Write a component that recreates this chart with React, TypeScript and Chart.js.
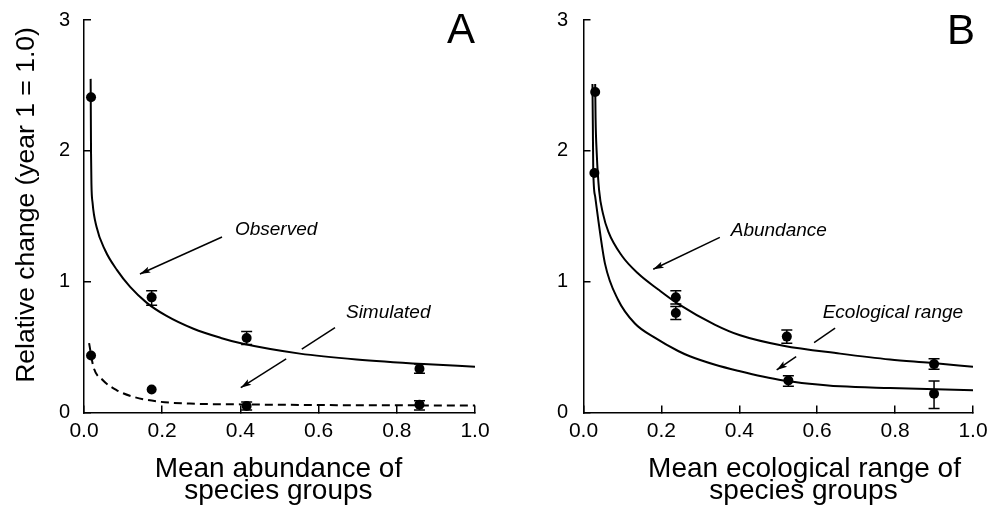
import React, { useEffect, useRef } from "react";
import { Chart, registerables } from "chart.js";

Chart.register(...registerables);

const FONT = '"Liberation Sans", Arial, Helvetica, sans-serif';

// Axis tick values
const xTickValues = [0, 0.2, 0.4, 0.6, 0.8, 1.0];
const yTickValues = [0, 1, 2, 3];

// ---------- Panel A: Mean abundance ----------
const obsX = [0.018, 0.173, 0.416, 0.858];
const obsY = [2.41, 0.88, 0.57, 0.335];
const obsLow = [2.41, 0.82, 0.52, 0.3];
const obsHigh = [2.41, 0.93, 0.62, 0.37];

const simX = [0.018, 0.173, 0.416, 0.858];
const simY = [0.436, 0.176, 0.05, 0.06];
const simLow = [0.436, 0.176, 0.02, 0.02];
const simHigh = [0.436, 0.176, 0.08, 0.09];

const obsCurveX = [0.017, 0.0175, 0.018, 0.019, 0.022, 0.032, 0.054, 0.084, 0.118, 0.16, 0.21, 0.28, 0.35, 0.407, 0.552, 0.697, 0.868, 1.0];
const obsCurveY = [2.55, 2.25, 1.98, 1.75, 1.6, 1.42, 1.24, 1.09, 0.96, 0.84, 0.74, 0.64, 0.57, 0.525, 0.45, 0.405, 0.37, 0.35];

const simCurveX = [0.013, 0.024, 0.049, 0.084, 0.126, 0.186, 0.271, 0.4, 0.6, 0.8, 1.0];
const simCurveY = [0.53, 0.35, 0.245, 0.17, 0.12, 0.085, 0.068, 0.062, 0.057, 0.055, 0.053];

// ---------- Panel B: Mean ecological range ----------
const abunX = [0.03, 0.237, 0.522, 0.9];
const abunY = [2.45, 0.88, 0.58, 0.37];
const abunLow = [2.45, 0.83, 0.53, 0.33];
const abunHigh = [2.45, 0.93, 0.63, 0.41];

const ecoX = [0.028, 0.237, 0.526, 0.9];
const ecoY = [1.83, 0.76, 0.245, 0.143];
const ecoLow = [1.83, 0.71, 0.2, 0.03];
const ecoHigh = [1.83, 0.81, 0.28, 0.24];

const abunCurveX = [0.03, 0.031, 0.034, 0.04, 0.05, 0.064, 0.098, 0.141, 0.192, 0.243, 0.338, 0.402, 0.513, 0.659, 0.787, 0.89, 1.0];
const abunCurveY = [2.51, 2.25, 1.98, 1.7, 1.52, 1.38, 1.2, 1.06, 0.94, 0.83, 0.67, 0.59, 0.51, 0.45, 0.405, 0.38, 0.35];

const ecoCurveX = [0.023, 0.024, 0.025, 0.03, 0.038, 0.055, 0.089, 0.132, 0.184, 0.243, 0.273, 0.338, 0.402, 0.46, 0.513, 0.58, 0.659, 0.787, 1.0];
const ecoCurveY = [2.51, 2.2, 1.86, 1.65, 1.47, 1.14, 0.86, 0.68, 0.57, 0.47, 0.43, 0.365, 0.315, 0.275, 0.245, 0.22, 0.2, 0.187, 0.17];

// ---------- Text ----------
const yTitle = "Relative change (year 1 = 1.0)";
const xTitleA = ["Mean abundance of", "species groups"];
const xTitleB = ["Mean ecological range of", "species groups"];

type Curve = { x: number[]; y: number[]; dash?: number[] };
type Pts = { x: number[]; y: number[]; low: number[]; high: number[] };
type DataText = { text: string; x: number; y: number; font: string; align: CanvasTextAlign };
type PixText = { text: string; x: number; y: number; font: string; align: CanvasTextAlign; rotate?: boolean };
type Arrow = { x1: number; y1: number; x2: number; y2: number; head: boolean };

type PanelCfg = {
  canvasLeft: number;
  canvasWidth: number;
  yAxisWidth: number;
  yPad: number;
  padRight: number;
  curves: Curve[];
  points: Pts[];
  dataTexts: DataText[];
  pixTexts: PixText[];
  arrows: Arrow[];
};

const ITALIC = `italic 19px ${FONT}`;
const TITLE = `28px ${FONT}`;
const LETTER = `42px ${FONT}`;

const panelA: PanelCfg = {
  canvasLeft: 0,
  canvasWidth: 495,
  yAxisWidth: 84,
  yPad: 21,
  padRight: 20,
  curves: [
    { x: obsCurveX, y: obsCurveY },
    { x: simCurveX, y: simCurveY, dash: [8, 5] },
  ],
  points: [
    { x: obsX, y: obsY, low: obsLow, high: obsHigh },
    { x: simX, y: simY, low: simLow, high: simHigh },
  ],
  dataTexts: [
    { text: "Observed", x: 0.386, y: 1.357, font: ITALIC, align: "left" },
    { text: "Simulated", x: 0.67, y: 0.72, font: ITALIC, align: "left" },
    { text: "A", x: 1.0, y: 2.822, font: LETTER, align: "right" },
  ],
  pixTexts: [
    { text: yTitle, x: 33.5, y: 205, font: `26.5px ${FONT}`, align: "center", rotate: true },
    { text: xTitleA[0], x: 278.4, y: 476.7, font: TITLE, align: "center" },
    { text: xTitleA[1], x: 278.4, y: 499.3, font: TITLE, align: "center" },
  ],
  arrows: [
    { x1: 0.353, y1: 1.341, x2: 0.143, y2: 1.059, head: true },
    { x1: 0.642, y1: 0.648, x2: 0.557, y2: 0.485, head: false },
    { x1: 0.517, y1: 0.409, x2: 0.401, y2: 0.19, head: true },
  ],
};

const panelB: PanelCfg = {
  canvasLeft: 495,
  canvasWidth: 494,
  yAxisWidth: 88.5,
  yPad: 22.5,
  padRight: 16,
  curves: [
    { x: abunCurveX, y: abunCurveY },
    { x: ecoCurveX, y: ecoCurveY },
  ],
  points: [
    { x: abunX, y: abunY, low: abunLow, high: abunHigh },
    { x: ecoX, y: ecoY, low: ecoLow, high: ecoHigh },
  ],
  dataTexts: [
    { text: "Abundance", x: 0.378, y: 1.351, font: ITALIC, align: "left" },
    { text: "Ecological range", x: 0.614, y: 0.72, font: ITALIC, align: "left" },
    { text: "B", x: 1.005, y: 2.817, font: LETTER, align: "right" },
  ],
  pixTexts: [
    { text: xTitleB[0], x: 309.5, y: 476.7, font: TITLE, align: "center" },
    { text: xTitleB[1], x: 308.5, y: 499.3, font: TITLE, align: "center" },
  ],
  arrows: [
    { x1: 0.35, y1: 1.339, x2: 0.179, y2: 1.095, head: true },
    { x1: 0.646, y1: 0.644, x2: 0.592, y2: 0.534, head: false },
    { x1: 0.546, y1: 0.427, x2: 0.496, y2: 0.325, head: true },
  ],
};

function makePlugin(cfg: PanelCfg) {
  return {
    id: "panelDecor",
    afterDatasetsDraw(chart: any) {
      const ctx: CanvasRenderingContext2D = chart.ctx;
      const xs = chart.scales.x;
      const ys = chart.scales.y;
      ctx.save();
      ctx.strokeStyle = "#000";
      ctx.fillStyle = "#000";
      ctx.lineWidth = 1.5;
      // error bars
      for (const p of cfg.points) {
        for (let i = 0; i < p.x.length; i++) {
          if (p.high[i] - p.low[i] <= 0) continue;
          const px = xs.getPixelForValue(p.x[i]);
          const pl = ys.getPixelForValue(p.low[i]);
          const ph = ys.getPixelForValue(p.high[i]);
          ctx.beginPath();
          ctx.moveTo(px, pl);
          ctx.lineTo(px, ph);
          ctx.moveTo(px - 5.5, pl);
          ctx.lineTo(px + 5.5, pl);
          ctx.moveTo(px - 5.5, ph);
          ctx.lineTo(px + 5.5, ph);
          ctx.stroke();
        }
      }
      // arrows
      for (const a of cfg.arrows) {
        const x1 = xs.getPixelForValue(a.x1);
        const y1 = ys.getPixelForValue(a.y1);
        const x2 = xs.getPixelForValue(a.x2);
        const y2 = ys.getPixelForValue(a.y2);
        ctx.beginPath();
        ctx.moveTo(x1, y1);
        ctx.lineTo(x2, y2);
        ctx.stroke();
        if (a.head) {
          const ang = Math.atan2(y2 - y1, x2 - x1);
          const L = 11;
          const w = 0.3;
          ctx.beginPath();
          ctx.moveTo(x2, y2);
          ctx.lineTo(x2 - L * Math.cos(ang - w), y2 - L * Math.sin(ang - w));
          ctx.lineTo(x2 - L * 0.75 * Math.cos(ang), y2 - L * 0.75 * Math.sin(ang));
          ctx.lineTo(x2 - L * Math.cos(ang + w), y2 - L * Math.sin(ang + w));
          ctx.closePath();
          ctx.fill();
        }
      }
      // data-anchored text
      ctx.textBaseline = "alphabetic";
      for (const t of cfg.dataTexts) {
        ctx.font = t.font;
        ctx.textAlign = t.align;
        ctx.fillText(t.text, xs.getPixelForValue(t.x), ys.getPixelForValue(t.y));
      }
      // titles
      for (const t of cfg.pixTexts) {
        ctx.font = t.font;
        ctx.textAlign = t.align;
        if (t.rotate) {
          ctx.save();
          ctx.translate(t.x, t.y);
          ctx.rotate(-Math.PI / 2);
          ctx.fillText(t.text, 0, 0);
          ctx.restore();
        } else {
          ctx.fillText(t.text, t.x, t.y);
        }
      }
      ctx.restore();
    },
  };
}

function buildConfig(cfg: PanelCfg): any {
  const datasets: any[] = [];
  cfg.points.forEach((p) => {
    datasets.push({
      type: "scatter",
      data: p.x.map((v, i) => ({ x: v, y: p.y[i] })),
      pointRadius: 5,
      pointBackgroundColor: "#000",
      pointBorderColor: "#000",
      pointBorderWidth: 0,
      showLine: false,
      order: 0,
    });
  });
  cfg.curves.forEach((c) => {
    datasets.push({
      type: "line",
      data: c.x.map((v, i) => ({ x: v, y: c.y[i] })),
      borderColor: "#000",
      borderWidth: 2,
      borderDash: c.dash || [],
      pointRadius: 0,
      fill: false,
      cubicInterpolationMode: "monotone",
      order: 1,
    });
  });
  const grid = {
    display: true,
    drawOnChartArea: false,
    drawTicks: true,
    tickLength: -7,
    color: "#000",
    lineWidth: 1.5,
  };
  const border = { display: true, color: "#000", width: 1.5 };
  return {
    type: "scatter",
    data: { datasets },
    options: {
      responsive: false,
      animation: false,
      devicePixelRatio: 1,
      layout: { padding: { top: 20, right: cfg.padRight, left: 0, bottom: 0 } },
      plugins: { legend: { display: false }, tooltip: { enabled: false } },
      scales: {
        x: {
          type: "linear",
          min: 0,
          max: 1,
          afterBuildTicks: (s: any) => {
            s.ticks = xTickValues.map((v) => ({ value: v }));
          },
          afterFit: (s: any) => {
            s.height = 98.5;
            s.paddingLeft = 0;
            s.paddingRight = 0;
          },
          ticks: {
            callback: (v: any) => Number(v).toFixed(1),
            font: { size: 21, family: FONT },
            color: "#000",
            padding: 13,
            maxRotation: 0,
            autoSkip: false,
          },
          grid,
          border,
        },
        y: {
          type: "linear",
          min: 0,
          max: 3,
          afterBuildTicks: (s: any) => {
            s.ticks = yTickValues.map((v) => ({ value: v }));
          },
          afterFit: (s: any) => {
            s.width = cfg.yAxisWidth;
            s.paddingTop = 0;
            s.paddingBottom = 0;
          },
          ticks: {
            callback: (v: any) => String(v),
            font: { size: 20, family: FONT },
            color: "#000",
            padding: cfg.yPad,
            autoSkip: false,
          },
          grid,
          border,
        },
      },
    },
    plugins: [makePlugin(cfg)],
  };
}

function Panel({ cfg }: { cfg: PanelCfg }) {
  const ref = useRef<HTMLCanvasElement>(null);
  useEffect(() => {
    if (!ref.current) return;
    const chart = new Chart(ref.current, buildConfig(cfg));
    return () => chart.destroy();
  }, [cfg]);
  return (
    <canvas
      ref={ref}
      width={cfg.canvasWidth}
      height={511}
      style={{
        position: "absolute",
        left: cfg.canvasLeft,
        top: 0,
        width: cfg.canvasWidth,
        height: 511,
      }}
    />
  );
}

export default function App() {
  Chart.defaults.font.family = FONT;
  Chart.defaults.color = "#000";
  return (
    <div
      style={{
        position: "absolute",
        left: 0,
        top: 0,
        width: 989,
        height: 511,
        background: "#fff",
        overflow: "hidden",
      }}
    >
      <Panel cfg={panelA} />
      <Panel cfg={panelB} />
    </div>
  );
}
